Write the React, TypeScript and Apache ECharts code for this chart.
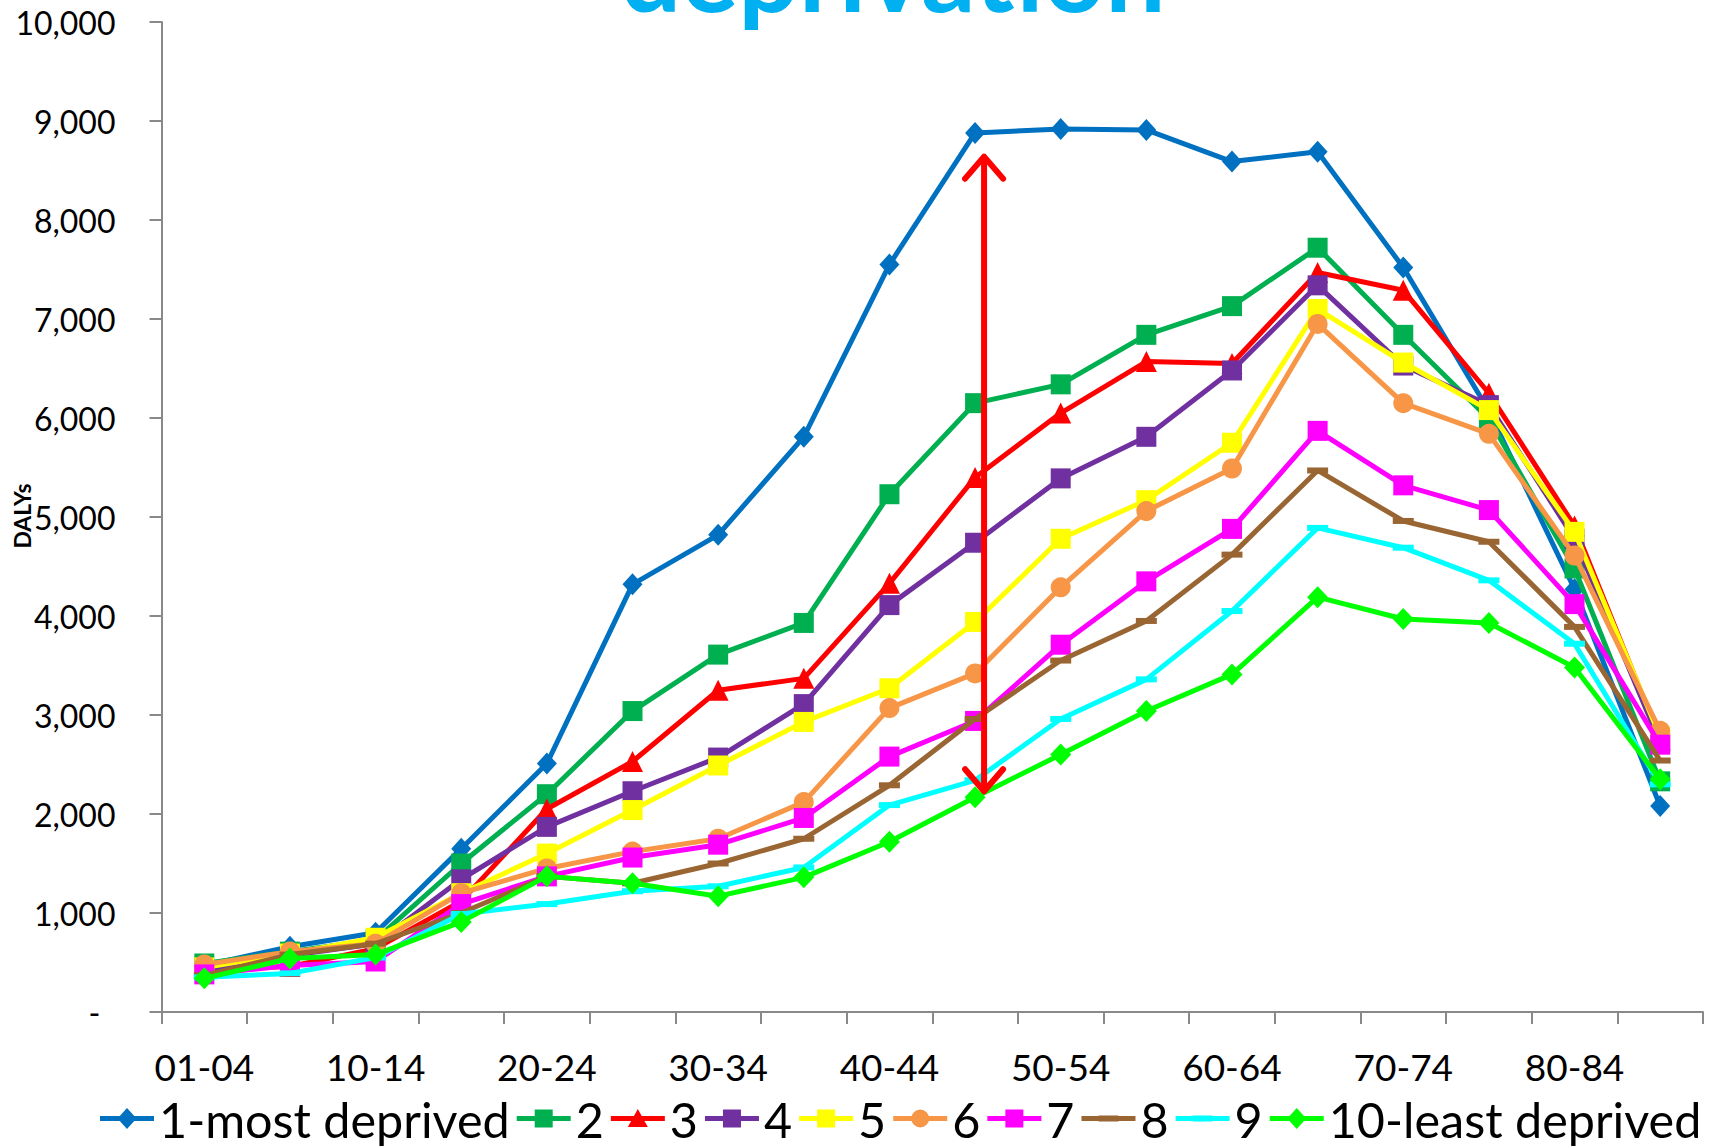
import React, { useEffect, useRef } from 'react';
import * as echarts from 'echarts';

const categories = ['01-04', '05-09', '10-14', '15-19', '20-24', '25-29', '30-34', '35-39', '40-44', '45-49', '50-54', '55-59', '60-64', '65-69', '70-74', '75-79', '80-84', '85+'];

const seriesNames = ['1-most deprived', '2', '3', '4', '5', '6', '7', '8', '9', '10-least deprived'];

const decile1 = [470, 660, 800, 1650, 2510, 4320, 4820, 5810, 7550, 8880, 8920, 8910, 8590, 8690, 7520, 6070, 4270, 2080];
const decile2 = [490, 610, 730, 1500, 2200, 3040, 3610, 3930, 5230, 6150, 6340, 6840, 7130, 7720, 6840, 5990, 4480, 2330];
const decile3 = [430, 460, 640, 1120, 2050, 2530, 3250, 3370, 4330, 5400, 6050, 6570, 6550, 7470, 7290, 6250, 4910, 2750];
const decile4 = [430, 570, 690, 1340, 1870, 2230, 2570, 3110, 4110, 4740, 5390, 5810, 6480, 7340, 6530, 6130, 4780, 2720];
const decile5 = [450, 590, 750, 1200, 1600, 2040, 2490, 2930, 3270, 3940, 4780, 5170, 5750, 7100, 6560, 6080, 4850, 2780];
const decile6 = [480, 610, 690, 1200, 1450, 1620, 1750, 2120, 3070, 3420, 4290, 5060, 5490, 6950, 6150, 5840, 4610, 2840];
const decile7 = [380, 470, 510, 1090, 1370, 1560, 1690, 1960, 2580, 2940, 3710, 4350, 4880, 5870, 5320, 5070, 4120, 2700];
const decile8 = [370, 580, 690, 1000, 1370, 1300, 1500, 1750, 2290, 2960, 3550, 3950, 4620, 5470, 4960, 4750, 3890, 2540];
const decile9 = [350, 390, 550, 990, 1090, 1220, 1270, 1460, 2090, 2340, 2960, 3360, 4050, 4890, 4690, 4360, 3720, 2300];
const decile10 = [340, 540, 580, 910, 1370, 1300, 1170, 1360, 1720, 2170, 2600, 3040, 3410, 4190, 3970, 3930, 3480, 2350];

const allData = [decile1, decile2, decile3, decile4, decile5, decile6, decile7, decile8, decile9, decile10];

const yMin = 0;
const yMax = 10000;
const yInterval = 1000;

const titleText = 'deprivation';
const yAxisTitle = 'DALYs';

const arrowCategory = '45-49';
const arrowFrom = 2230;
const arrowTo = 8640;

const colors = ['#0070C0', '#00B050', '#FF0000', '#7030A0', '#FFFF00', '#F79646', '#FF00FF', '#996633', '#00FFFF', '#00FF00'];
const symbols = ['diamond', 'rect', 'triangle', 'rect', 'rect', 'circle', 'rect', 'rect', 'rect', 'diamond'];
const symbolSizes: any[] = [[20, 22], 20, 21, 20, 20, 20, 20, [21, 6], [21, 6], [21, 22]];

// legend icon shapes (54 x 24 box): a thick line with the marker on it
const ICON_FRAME = 'M0 0 L0 0 M54 24 L54 24 ';
const ICON_BAR = 'M0 9.5 L54 9.5 L54 14.5 L0 14.5 Z ';
const markerPaths: Record<string, string> = {
  diamond: 'M27 1.5 L36.5 12 L27 22.5 L17.5 12 Z',
  square: 'M18 3 L36 3 L36 21 L18 21 Z',
  triangle: 'M27 2.5 L37 20.5 L17 20.5 Z',
  circle: 'M18 12 A9 9 0 1 1 36 12 A9 9 0 1 1 18 12 Z',
  dash: 'M17 9 L37 9 L37 15 L17 15 Z',
};
const legendMarkers = ['diamond', 'square', 'triangle', 'square', 'square', 'circle', 'square', 'dash', 'dash', 'diamond'];

const FONT = 'Lato';

export default function App() {
  const ref = useRef<HTMLDivElement>(null);

  useEffect(() => {
    document.body.style.margin = '0';
    const chart = echarts.init(ref.current as HTMLDivElement, null, { renderer: 'svg' });

    const baseGraphics: any[] = [
      {
        id: 'title',
        type: 'text',
        x: 893,
        y: -30,
        style: {
          text: titleText,
          fontFamily: FONT,
          fontWeight: 'bold',
          fontSize: 107,
          fill: '#00B0F0',
          align: 'center',
          verticalAlign: 'middle',
        },
      },
      {
        id: 'ytitle',
        type: 'text',
        x: 22,
        y: 516,
        rotation: Math.PI / 2,
        style: {
          text: yAxisTitle,
          fontFamily: FONT,
          fontWeight: 'bold',
          fontSize: 23,
          fill: '#000',
          align: 'center',
          verticalAlign: 'middle',
        },
      },
    ];

    const option: any = {
      animation: false,
      backgroundColor: '#ffffff',
      grid: { left: 161.5, right: 20, top: 22, bottom: 134, containLabel: false },
      legend: {
        left: 100,
        top: 1094,
        padding: 0,
        itemWidth: 54,
        itemHeight: 24,
        itemGap: 7,
        symbolKeepAspect: true,
        textStyle: { fontFamily: FONT, fontSize: 48.5, lineHeight: 44, color: '#000' },
        data: seriesNames.map((name, i) => ({
          name,
          icon: 'path://' + ICON_FRAME + ICON_BAR + markerPaths[legendMarkers[i]],
          itemStyle: { color: colors[i] },
        })),
      },
      xAxis: {
        type: 'category',
        data: categories,
        boundaryGap: true,
        axisLine: { lineStyle: { color: '#898989', width: 2 } },
        axisTick: { show: true, interval: 0, length: 12, lineStyle: { color: '#898989', width: 2 } },
        axisLabel: { interval: 1, margin: 36, fontFamily: FONT, fontSize: 37, color: '#000' },
        splitLine: { show: false },
      },
      yAxis: {
        type: 'value',
        min: yMin,
        max: yMax,
        interval: yInterval,
        axisLine: { show: true, lineStyle: { color: '#898989', width: 2 } },
        axisTick: { show: true, length: 12, lineStyle: { color: '#898989', width: 2 } },
        splitLine: { show: false },
        axisLabel: {
          margin: 46,
          fontFamily: FONT,
          fontSize: 32,
          color: '#000',
          formatter: (v: number) => (v === 0 ? '{z|-}' : v.toLocaleString('en-US')),
          rich: { z: { fontFamily: FONT, fontSize: 32, color: '#000', padding: [0, 15, 0, 0] } },
        },
      },
      series: seriesNames.map((name, i) => ({
        name,
        type: 'line',
        data: allData[i],
        symbol: symbols[i],
        symbolSize: symbolSizes[i],
        showSymbol: true,
        lineStyle: { color: colors[i], width: 5 },
        itemStyle: { color: colors[i] },
        z: 2 + i,
      })),
      graphic: baseGraphics,
    };

    chart.setOption(option);

    const idx = categories.indexOf(arrowCategory);
    const pTop = chart.convertToPixel({ xAxisIndex: 0, yAxisIndex: 0 }, [idx, arrowTo]) as number[];
    const pBot = chart.convertToPixel({ xAxisIndex: 0, yAxisIndex: 0 }, [idx, arrowFrom]) as number[];
    const ax = pTop[0] + 9;
    const yT = pTop[1];
    const yB = pBot[1];
    const arrowStyle = { stroke: '#FF0000', lineWidth: 6, lineCap: 'round', lineJoin: 'round', fill: null };

    chart.setOption({
      graphic: [
        ...baseGraphics,
        { id: 'arrowLine', type: 'line', z: 100, shape: { x1: ax, y1: yT + 2, x2: ax, y2: yB - 2 }, style: arrowStyle },
        { id: 'arrowTop', type: 'polyline', z: 100, shape: { points: [[ax - 19, yT + 22], [ax, yT], [ax + 19, yT + 22]] }, style: arrowStyle },
        { id: 'arrowBot', type: 'polyline', z: 100, shape: { points: [[ax - 19, yB - 22], [ax, yB], [ax + 19, yB - 22]] }, style: arrowStyle },
      ],
    });

    return () => {
      chart.dispose();
    };
  }, []);

  return <div ref={ref} style={{ width: 1723, height: 1146 }} />;
}
